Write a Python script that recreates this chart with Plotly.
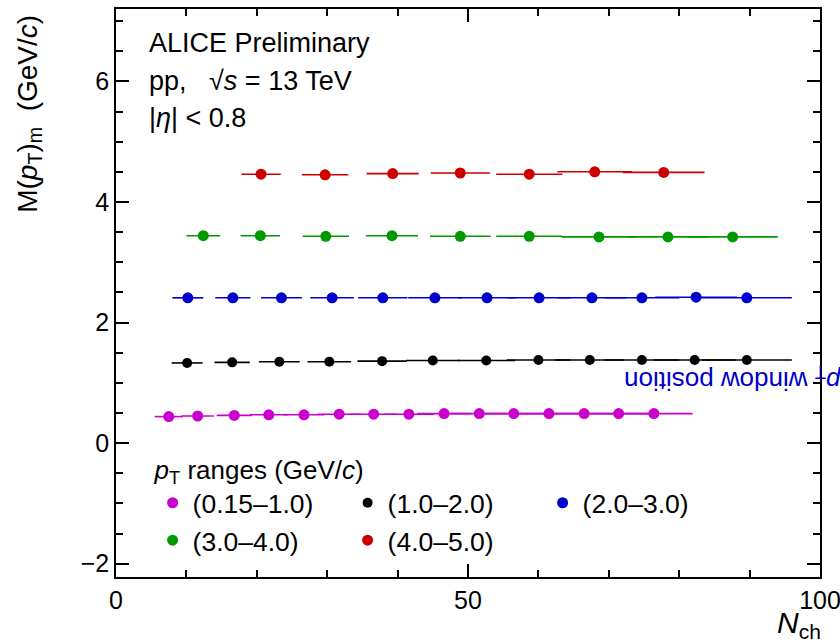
import plotly.graph_objects as go

# Mean pT in each pT window vs charged-particle multiplicity
nch_a = [7.5, 11.6, 16.8, 21.7, 26.7, 31.7, 36.6, 41.6, 46.6, 51.6, 56.5, 61.5, 66.5, 71.4, 76.4]
mpt_a = [0.44, 0.45, 0.46, 0.47, 0.47, 0.48, 0.48, 0.48, 0.49, 0.49, 0.49, 0.49, 0.49, 0.49, 0.49]
err_a = [2.0, 2.3, 2.5, 2.7, 2.9, 3.1, 3.3, 3.5, 3.8, 4.0, 4.3, 4.6, 4.9, 5.2, 5.5]

nch_b = [10.1, 16.5, 23.2, 30.3, 37.8, 45.0, 52.6, 60.0, 67.3, 74.7, 82.2, 89.6]
mpt_b = [1.33, 1.34, 1.35, 1.35, 1.36, 1.37, 1.37, 1.38, 1.38, 1.38, 1.38, 1.38]
err_b = [2.2, 2.5, 2.9, 3.1, 3.5, 3.8, 4.1, 4.5, 4.9, 5.3, 5.8, 6.4]

nch_c = [10.2, 16.6, 23.5, 30.7, 37.9, 45.3, 52.7, 60.1, 67.6, 74.7, 82.4, 89.6]
mpt_c = [2.41, 2.41, 2.41, 2.41, 2.41, 2.41, 2.41, 2.41, 2.41, 2.41, 2.42, 2.41]
err_c = [2.2, 2.5, 2.9, 3.1, 3.5, 3.8, 4.1, 4.5, 4.9, 5.3, 5.8, 6.4]

nch_d = [12.4, 20.5, 29.8, 39.2, 48.9, 58.7, 68.6, 78.4, 87.6]
mpt_d = [3.44, 3.44, 3.43, 3.44, 3.43, 3.43, 3.42, 3.42, 3.42]
err_d = [2.4, 2.8, 3.3, 3.7, 4.3, 4.7, 5.3, 5.8, 6.4]

nch_e = [20.6, 29.7, 39.3, 48.9, 58.7, 68.0, 77.8]
mpt_e = [4.46, 4.45, 4.47, 4.48, 4.46, 4.50, 4.49]
err_e = [2.8, 3.3, 3.7, 4.2, 4.7, 5.3, 5.8]

labels = ["(0.15–1.0)", "(1.0–2.0)", "(2.0–3.0)", "(3.0–4.0)", "(4.0–5.0)"]
colors = ["#cc00cc", "#000000", "#0000cc", "#009900", "#cc0000"]
sizes = [11, 10, 11, 11, 11]

series = [
    (nch_a, mpt_a, err_a),
    (nch_b, mpt_b, err_b),
    (nch_c, mpt_c, err_c),
    (nch_d, mpt_d, err_d),
    (nch_e, mpt_e, err_e),
]

FONT = "Liberation Sans, Arial, sans-serif"

fig = go.Figure()
for (x, y, ex), name, col, sz in zip(series, labels, colors, sizes):
    fig.add_trace(go.Scatter(
        x=x, y=y, name=name, mode="markers",
        marker=dict(color=col, size=sz, line=dict(width=0)),
        error_x=dict(type="data", array=ex, color=col, thickness=1.6, width=0),
    ))

axis_common = dict(
    showgrid=False, zeroline=False, showline=True, linecolor="black", linewidth=1.5,
    mirror="ticks", ticks="inside", tickcolor="black", tickwidth=1.5,
    tickfont=dict(family=FONT, size=25, color="black"), automargin=False,
    ticklabeloverflow="allow",
)

fig.update_xaxes(range=[0, 100], dtick=50, tick0=0, ticklen=13,
                 minor=dict(dtick=10, ticks="inside", ticklen=7, tickcolor="black", tickwidth=1.5),
                 **axis_common)
fig.update_yaxes(range=[-2.22, 7.2], dtick=2, tick0=0, ticklen=13,
                 minor=dict(dtick=0.5, ticks="inside", ticklen=7, tickcolor="black", tickwidth=1.5),
                 **axis_common)

ann = [
    dict(text="ALICE Preliminary", x=0.044, y=0.94, xanchor="left", yanchor="middle",
         font=dict(size=27)),
    dict(text="pp,   √<i>s</i> = 13 TeV", x=0.044, y=0.873, xanchor="left", yanchor="middle",
         font=dict(size=27)),
    dict(text="|<i>η</i>| < 0.8", x=0.044, y=0.808, xanchor="left", yanchor="middle",
         font=dict(size=27)),
    dict(text="<i>p</i><sub>T</sub> window position", x=0.876, y=0.349, textangle=180,
         xanchor="center", yanchor="middle", font=dict(size=26, color="#0000cc")),
    dict(text="<i>N</i><sub>ch</sub>", x=1.004, y=-0.083, xanchor="right", yanchor="middle",
         font=dict(size=30)),
    dict(text="M(<i>p</i><sub>T</sub>)<sub>m</sub>  (GeV/<i>c</i>)", x=-0.124, y=0.815,
         textangle=-90, xanchor="center", yanchor="middle", font=dict(size=28)),
]
for a in ann:
    a.update(xref="paper", yref="paper", showarrow=False)
    a["font"].setdefault("color", "black")
    a["font"]["family"] = FONT

fig.update_layout(
    width=840, height=644,
    margin=dict(l=116, r=20, t=9, b=67, autoexpand=False),
    paper_bgcolor="white", plot_bgcolor="white",
    font=dict(family=FONT, color="black"),
    annotations=ann,
    showlegend=True,
    legend=dict(
        orientation="h", x=0.052, y=0.232, xanchor="left", yanchor="top",
        bgcolor="rgba(0,0,0,0)",
        title=dict(text="<i>p</i><sub>T</sub> ranges (GeV/<i>c</i>)", side="top",
                   font=dict(size=26, family=FONT)),
        font=dict(size=26.5, family=FONT),
        entrywidth=150, entrywidthmode="pixels",
    ),
)

fig.write_html("out.html")
